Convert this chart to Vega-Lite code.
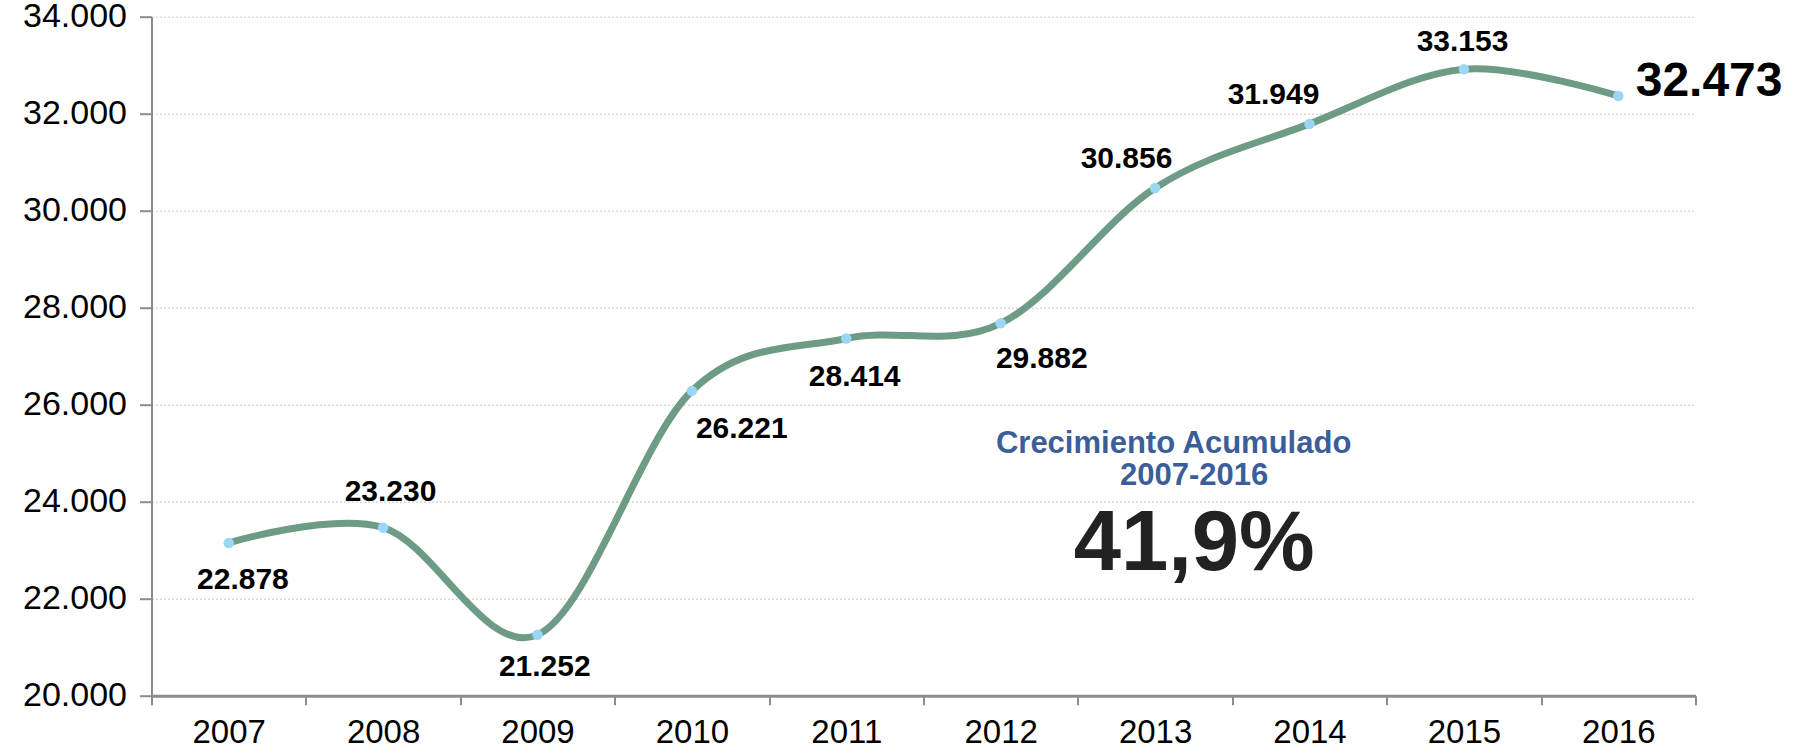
{
  "$schema": "https://vega.github.io/schema/vega-lite/v6.json",
  "width": 1544,
  "height": 679,
  "autosize": {"type": "none"},
  "padding": {"left": 151.5, "top": 16.7, "right": 102.5, "bottom": 59.3},
  "background": "white",
  "config": {"view": {"stroke": null}, "font": "Liberation Sans", "text": {"font": "Liberation Sans"}},
  "datasets": {
    "series": [
      {"year": "2007", "value": 23150},
      {"year": "2008", "value": 23465},
      {"year": "2009", "value": 21255},
      {"year": "2010", "value": 26285},
      {"year": "2011", "value": 27365},
      {"year": "2012", "value": 27677},
      {"year": "2013", "value": 30467},
      {"year": "2014", "value": 31790},
      {"year": "2015", "value": 32916},
      {"year": "2016", "value": 32366}
    ],
    "labels": [
      {"year": 2007, "label": "22.878", "lx": 2007.092, "ly": 22200},
      {"year": 2008, "label": "23.230", "lx": 2008.048, "ly": 24015},
      {"year": 2009, "label": "21.252", "lx": 2009.047, "ly": 20396},
      {"year": 2010, "label": "26.221", "lx": 2010.323, "ly": 25307},
      {"year": 2011, "label": "28.414", "lx": 2011.054, "ly": 26392},
      {"year": 2012, "label": "29.882", "lx": 2012.266, "ly": 26751},
      {"year": 2013, "label": "30.856", "lx": 2012.815, "ly": 30887},
      {"year": 2014, "label": "31.949", "lx": 2013.767, "ly": 32194},
      {"year": 2015, "label": "33.153", "lx": 2014.991, "ly": 33300},
      {"year": 2016, "label": "32.473", "lx": 2016.588, "ly": 32372}
    ],
    "notes": [
      {"kind": "title", "text": "Crecimiento Acumulado", "nx": 2013.12, "ny": 25004},
      {"kind": "title", "text": "2007-2016", "nx": 2013.253, "ny": 24345},
      {"kind": "big", "text": "41,9%", "nx": 2013.253, "ny": 22592}
    ]
  },
  "layer": [
    {
      "data": {"name": "series"},
      "mark": {
        "type": "line",
        "interpolate": "cardinal",
        "color": "#6E9B86",
        "strokeWidth": 7,
        "point": {"filled": true, "color": "#9CD6F5", "size": 110, "opacity": 1}
      },
      "encoding": {
        "x": {
          "field": "year",
          "type": "ordinal",
          "scale": {"type": "band", "paddingInner": 0, "paddingOuter": 0},
          "axis": {
            "title": null,
            "tickBand": "extent",
            "labelAngle": 0,
            "grid": false,
            "domainColor": "#8C8C8C",
            "domainWidth": 3,
            "tickColor": "#8C8C8C",
            "tickWidth": 2,
            "tickSize": 9,
            "labelFont": "Liberation Sans",
            "labelFontSize": 33,
            "labelColor": "#000000",
            "labelPadding": 12
          }
        },
        "y": {
          "field": "value",
          "type": "quantitative",
          "scale": {"domain": [20000, 34000], "nice": false, "zero": false},
          "axis": {
            "title": null,
            "values": [20000, 22000, 24000, 26000, 28000, 30000, 32000, 34000],
            "labelExpr": "replace(format(datum.value, ',d'), ',', '.')",
            "labelFont": "Liberation Sans",
            "labelFontSize": 34,
            "labelColor": "#000000",
            "labelPadding": 13,
            "tickSize": 12,
            "tickColor": "#8C8C8C",
            "tickWidth": 2,
            "domainColor": "#8C8C8C",
            "domainWidth": 2,
            "grid": true,
            "gridColor": "#C8C8C8",
            "gridDash": [2, 2],
            "gridWidth": 1
          }
        }
      }
    },
    {
      "data": {"name": "labels"},
      "transform": [{"filter": "datum.year != 2016"}],
      "mark": {"type": "text", "font": "Liberation Sans", "fontSize": 30, "fontWeight": "bold", "color": "#000000", "align": "center", "baseline": "alphabetic"},
      "encoding": {
        "x": {"field": "lx", "type": "quantitative", "scale": {"domain": [2006.5, 2016.5], "nice": false, "zero": false}, "axis": null},
        "y": {"field": "ly", "type": "quantitative", "title": null, "scale": {"domain": [20000, 34000], "nice": false, "zero": false}},
        "text": {"field": "label"}
      }
    },
    {
      "data": {"name": "labels"},
      "transform": [{"filter": "datum.year == 2016"}],
      "mark": {"type": "text", "font": "Liberation Sans", "fontSize": 48, "fontWeight": "bold", "color": "#000000", "align": "center", "baseline": "alphabetic"},
      "encoding": {
        "x": {"field": "lx", "type": "quantitative", "scale": {"domain": [2006.5, 2016.5], "nice": false, "zero": false}, "axis": null},
        "y": {"field": "ly", "type": "quantitative", "title": null, "scale": {"domain": [20000, 34000], "nice": false, "zero": false}},
        "text": {"field": "label"}
      }
    },
    {
      "data": {"name": "notes"},
      "transform": [{"filter": "datum.kind == 'title'"}],
      "mark": {"type": "text", "font": "Liberation Sans", "fontSize": 31, "fontWeight": "bold", "color": "#3B5E9A", "align": "center", "baseline": "alphabetic"},
      "encoding": {
        "x": {"field": "nx", "type": "quantitative", "scale": {"domain": [2006.5, 2016.5], "nice": false, "zero": false}, "axis": null},
        "y": {"field": "ny", "type": "quantitative", "title": null, "scale": {"domain": [20000, 34000], "nice": false, "zero": false}},
        "text": {"field": "text"}
      }
    },
    {
      "data": {"name": "notes"},
      "transform": [{"filter": "datum.kind == 'big'"}],
      "mark": {"type": "text", "font": "Liberation Sans", "fontSize": 85, "fontWeight": "bold", "color": "#222222", "align": "center", "baseline": "alphabetic"},
      "encoding": {
        "x": {"field": "nx", "type": "quantitative", "scale": {"domain": [2006.5, 2016.5], "nice": false, "zero": false}, "axis": null},
        "y": {"field": "ny", "type": "quantitative", "title": null, "scale": {"domain": [20000, 34000], "nice": false, "zero": false}},
        "text": {"field": "text"}
      }
    }
  ],
  "resolve": {"scale": {"x": "independent"}}
}
